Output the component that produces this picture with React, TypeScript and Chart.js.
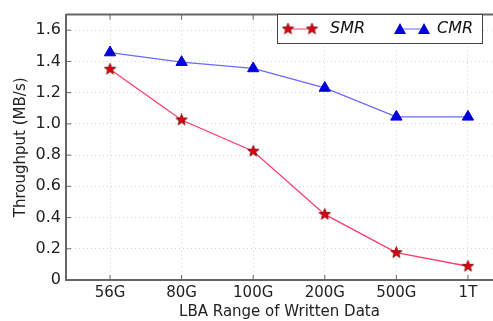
import React, { useEffect, useRef } from "react";
import { Chart, registerables } from "chart.js";

Chart.register(...registerables);

const categories = ["56G", "80G", "100G", "200G", "500G", "1T"];
const smrValues = [1.35, 1.025, 0.825, 0.42, 0.175, 0.088];
const cmrValues = [1.457, 1.395, 1.355, 1.23, 1.045, 1.045];
const yTicks = [0, 0.2, 0.4, 0.6, 0.8, 1.0, 1.2, 1.4, 1.6];
const seriesNames = ["SMR", "CMR"];

const FONT = "'DejaVu Sans', sans-serif";

function makeStar(size: number, fill: string, stroke: string) {
  const c = document.createElement("canvas");
  c.width = size;
  c.height = size;
  const ctx = c.getContext("2d")!;
  const cx = size / 2, cy = size / 2;
  const R = size / 2 - 0.5, r = R * 0.42;
  ctx.beginPath();
  for (let i = 0; i < 10; i++) {
    const ang = -Math.PI / 2 + (i * Math.PI) / 5;
    const rad = i % 2 === 0 ? R : r;
    const x = cx + rad * Math.cos(ang);
    const y = cy + rad * Math.sin(ang);
    if (i === 0) ctx.moveTo(x, y);
    else ctx.lineTo(x, y);
  }
  ctx.closePath();
  ctx.fillStyle = fill;
  ctx.fill();
  ctx.lineWidth = 0.8;
  ctx.strokeStyle = stroke;
  ctx.stroke();
  return c;
}

export default function App() {
  const ref = useRef<HTMLCanvasElement>(null);
  useEffect(() => {
    document.body.style.margin = "0";
    const star = makeStar(13, "#dd0011", "#770000");
    const smrLine = "#ff3d6e";
    const cmrLine = "#6a6aff";
    const triFill = "#0000dd";

    const extras = {
      id: "extras",
      afterDraw(chart: any) {
        const { ctx, chartArea } = chart;
        const ys = chart.scales.y;
        const xs = chart.scales.x;
        ctx.save();
        // top border
        ctx.strokeStyle = "#666";
        ctx.lineWidth = 2;
        ctx.beginPath();
        ctx.moveTo(chartArea.left, chartArea.top);
        ctx.lineTo(chartArea.right + 2, chartArea.top);
        ctx.stroke();
        // inside ticks
        ctx.lineWidth = 1;
        ctx.strokeStyle = "#666";
        yTicks.forEach((v) => {
          const y = ys.getPixelForValue(v);
          ctx.beginPath();
          ctx.moveTo(chartArea.left, y);
          ctx.lineTo(chartArea.left + 5, y);
          ctx.stroke();
        });
        categories.forEach((_, i) => {
          const x = xs.getPixelForValue(i);
          ctx.beginPath();
          ctx.moveTo(x, chartArea.bottom);
          ctx.lineTo(x, chartArea.bottom - 5);
          ctx.moveTo(x, chartArea.top);
          ctx.lineTo(x, chartArea.top + 5);
          ctx.stroke();
        });
        // legend
        const bx = 277, by = 14, bw = 205, bh = 29;
        ctx.fillStyle = "#fff";
        ctx.fillRect(bx, by, bw, bh);
        ctx.strokeStyle = "#444";
        ctx.lineWidth = 1;
        ctx.strokeRect(bx + 0.5, by + 0.5, bw, bh);
        const ly = by + bh / 2 + 0.5;
        // SMR
        ctx.strokeStyle = smrLine;
        ctx.lineWidth = 1;
        ctx.beginPath();
        ctx.moveTo(288, ly);
        ctx.lineTo(312, ly);
        ctx.stroke();
        ctx.drawImage(star, 288 - 6.5, ly - 6.5);
        ctx.drawImage(star, 312 - 6.5, ly - 6.5);
        // CMR
        ctx.strokeStyle = cmrLine;
        ctx.beginPath();
        ctx.moveTo(400, ly);
        ctx.lineTo(424, ly);
        ctx.stroke();
        [400, 424].forEach((x) => {
          ctx.fillStyle = triFill;
          ctx.beginPath();
          ctx.moveTo(x, ly - 6);
          ctx.lineTo(x + 6, ly + 5);
          ctx.lineTo(x - 6, ly + 5);
          ctx.closePath();
          ctx.fill();
        });
        ctx.fillStyle = "#111";
        ctx.font = `italic 16px ${FONT}`;
        ctx.textBaseline = "middle";
        ctx.textAlign = "left";
        ctx.fillText(seriesNames[0], 330, ly);
        ctx.fillText(seriesNames[1], 437, ly);
        ctx.restore();
      },
    };

    const chart = new Chart(ref.current!, {
      type: "line",
      data: {
        datasets: [
          {
            label: seriesNames[0],
            data: smrValues.map((v, i) => ({ x: i, y: v })),
            borderColor: smrLine,
            borderWidth: 1.3,
            pointStyle: star as any,
            pointRadius: 6,
          },
          {
            label: seriesNames[1],
            data: cmrValues.map((v, i) => ({ x: i, y: v })),
            borderColor: cmrLine,
            borderWidth: 1.3,
            pointStyle: "triangle",
            pointRadius: 6.5,
            pointBackgroundColor: triFill,
            pointBorderColor: triFill,
            pointBorderWidth: 1,
          },
        ],
      },
      options: {
        animation: false,
        responsive: false,
        layout: { autoPadding: false, padding: { top: 5, right: 0, left: 0, bottom: 0 } },
        plugins: { legend: { display: false }, tooltip: { enabled: false } },
        scales: {
          x: {
            type: "linear",
            min: -0.615,
            max: 5.35,
            afterBuildTicks: (s: any) => {
              s.ticks = categories.map((_, i) => ({ value: i }));
            },
            afterFit: (s: any) => {
              s.height = 41;
            },
            ticks: {
              callback: (v: any) => categories[v] ?? "",
              font: { family: FONT, size: 15 },
              color: "#222",
              padding: 4,
              maxRotation: 0,
              autoSkip: false,
            },
            grid: {
              color: "#d4d4d4",
              drawTicks: false,
              lineWidth: 1,
            },
            border: { display: true, color: "#666", width: 2, dash: [1, 3] },
            title: {
              display: true,
              text: "LBA Range of Written Data",
              font: { family: FONT, size: 15 },
              color: "#222",
              padding: { top: 2, bottom: 0 },
            },
          },
          y: {
            min: 0,
            max: 1.7,
            afterBuildTicks: (s: any) => {
              s.ticks = yTicks.map((v) => ({ value: v }));
            },
            afterFit: (s: any) => {
              s.width = 66;
            },
            ticks: {
              callback: (v: any) => (v === 0 ? "0" : Number(v).toFixed(1)),
              font: { family: FONT, size: 16 },
              color: "#222",
              padding: 5,
            },
            grid: {
              color: "#d4d4d4",
              drawTicks: false,
              lineWidth: 1,
            },
            border: { display: true, color: "#666", width: 2, dash: [1, 3] },
            title: {
              display: true,
              text: "Throughput (MB/s)",
              font: { family: FONT, size: 15 },
              color: "#222",
              padding: { top: 12, bottom: 0 },
            },
          },
        },
      },
      plugins: [extras],
    });
    return () => chart.destroy();
  }, []);
  return <canvas ref={ref} width={493} height={321} style={{ display: "block" }} />;
}
